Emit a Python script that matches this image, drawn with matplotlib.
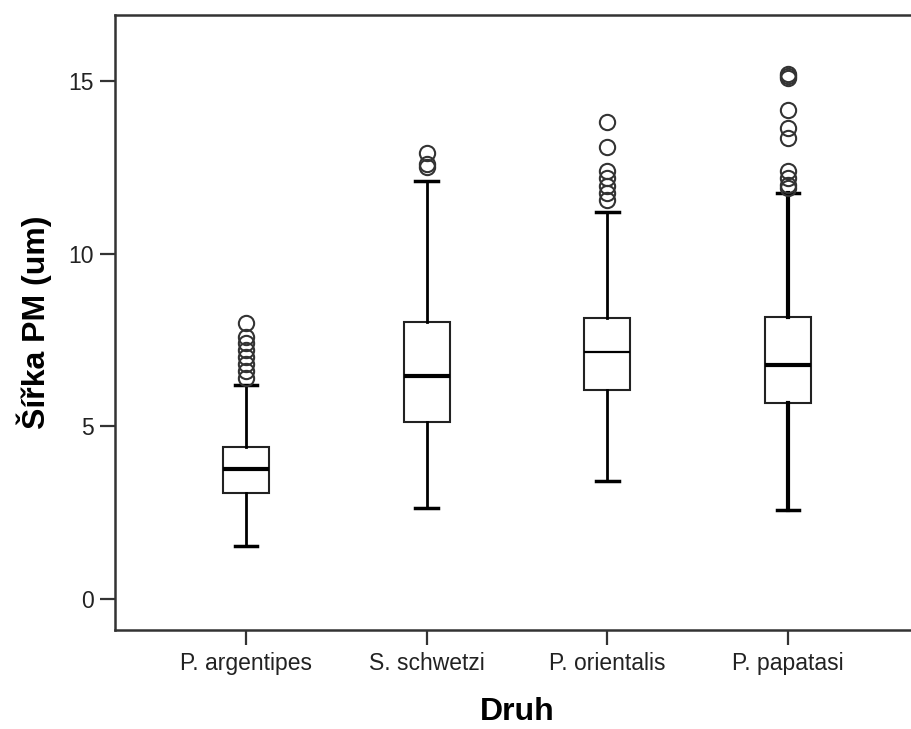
import matplotlib
matplotlib.use("Agg")
import matplotlib.pyplot as plt

categories = ["P. argentipes", "S. schwetzi", "P. orientalis", "P. papatasi"]
whislo = [1.53, 2.64, 3.42, 2.58]
q1 = [3.07, 5.13, 6.05, 5.68]
med = [3.76, 6.46, 7.15, 6.78]
q3 = [4.40, 8.02, 8.14, 8.17]
whishi = [6.20, 12.10, 11.21, 11.76]
fliers = [
    [8.0, 7.6, 7.4, 7.2, 7.0, 6.8, 6.6, 6.4],
    [12.9, 12.6, 12.5],
    [13.8, 13.1, 12.4, 12.2, 11.95, 11.75, 11.55],
    [15.2, 15.15, 15.1, 14.15, 13.65, 13.35, 12.4, 12.2, 12.0, 11.9],
]
yticks = [0, 5, 10, 15]

plt.rcParams['font.family'] = ['Liberation Sans', 'DejaVu Sans']

W, H = 911, 729
fig = plt.figure(figsize=(W / 100, H / 100), dpi=100)
left, right, top, bottom = 115, 919, 15, 630
ax = fig.add_axes([left / W, (H - bottom) / H, (right - left) / W, (bottom - top) / H])

stats = []
for i, c in enumerate(categories):
    stats.append(dict(label=c, med=med[i], q1=q1[i], q3=q3[i],
                      whislo=whislo[i], whishi=whishi[i], fliers=fliers[i]))

pos = list(range(1, len(categories) + 1))
res = ax.bxp(stats, positions=pos, widths=0.255, capwidths=0.125, patch_artist=True,
             boxprops=dict(facecolor='white', edgecolor='#222222', linewidth=1.5),
             medianprops=dict(color='black', linewidth=3.0),
             whiskerprops=dict(color='black', linewidth=2.0),
             capprops=dict(color='black', linewidth=2.5),
             flierprops=dict(marker='o', markersize=11, markerfacecolor='none',
                             markeredgecolor='#333333', markeredgewidth=1.5, linestyle='none'))
res['medians'][2].set_linewidth(1.6)
for w in res['whiskers'][6:8]:
    w.set_linewidth(3.0)

ax.set_xlim(0.275, 4.725)
ax.set_ylim(-0.898, 16.91)
ax.set_yticks(yticks)
ax.set_yticklabels([str(t) for t in yticks])
ax.set_xticks(pos)
ax.set_xticklabels(categories)

for s in ['top', 'left', 'bottom', 'right']:
    ax.spines[s].set_linewidth(1.8)
    ax.spines[s].set_color('#333333')

ax.tick_params(axis='both', direction='out', length=11, width=1.6, color='#333333',
               labelsize=16.5, labelcolor='#222222')
ax.tick_params(axis='y', pad=4)
ax.tick_params(axis='x', pad=5)

ax.set_ylabel("Šířka PM (um)", fontsize=23, fontweight='bold', labelpad=12)
ax.set_xlabel("Druh", fontsize=23, fontweight='bold', labelpad=16)

fig.savefig("out.png", dpi=100)
